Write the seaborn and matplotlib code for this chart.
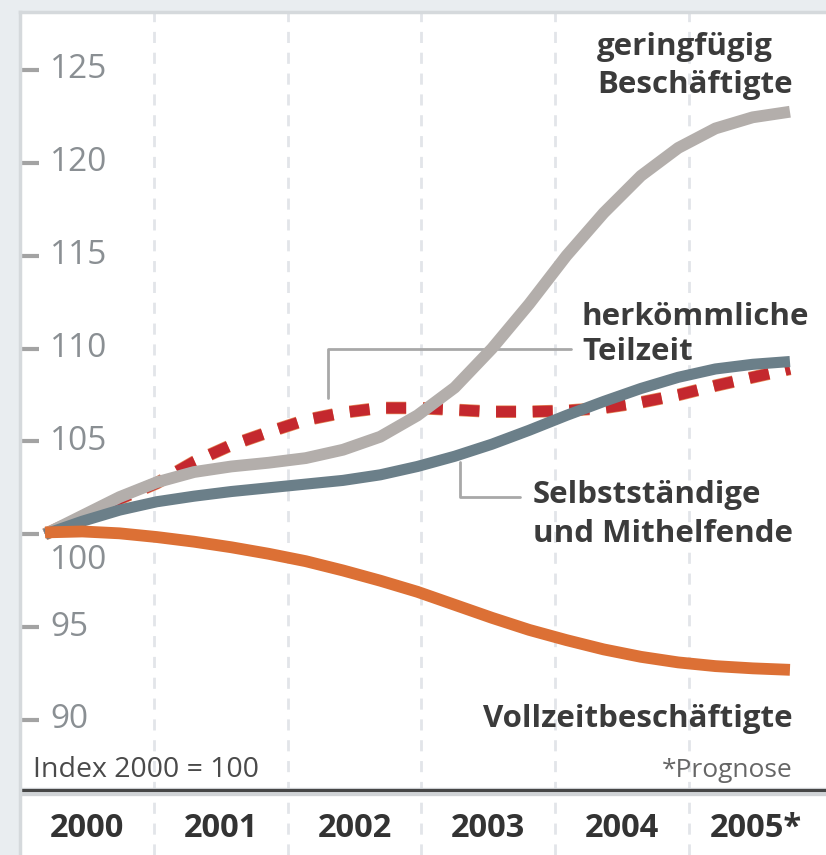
import numpy as np
import pandas as pd
import seaborn as sns
import matplotlib.pyplot as plt
from matplotlib import patheffects as pe

# Werte (vierteljaehrlich), Index 2000 = 100
jahre = [2000.0, 2000.25, 2000.5, 2000.75, 2001.0, 2001.25, 2001.5, 2001.75, 2002.0, 2002.25, 2002.5,
         2002.75, 2003.0, 2003.25, 2003.5, 2003.75, 2004.0, 2004.25, 2004.5, 2004.75, 2005.0]
geringfuegig = [100.0, 101.0, 102.0, 102.8, 103.35, 103.65, 103.85, 104.1, 104.55, 105.25, 106.4,
                107.9, 110.0, 112.4, 115.0, 117.3, 119.3, 120.8, 121.85, 122.45, 122.75]
selbststaendige = [100.0, 100.7, 101.3, 101.75, 102.05, 102.3, 102.5, 102.7, 102.9, 103.2, 103.65,
                   104.2, 104.85, 105.6, 106.4, 107.15, 107.85, 108.45, 108.9, 109.15, 109.3]
teilzeit = [100.0, 100.9, 101.9, 102.75, 103.9, 104.8, 105.5, 106.15, 106.55, 106.8, 106.8,
            106.7, 106.6, 106.6, 106.65, 106.8, 107.1, 107.5, 108.0, 108.45, 108.9]
vollzeit = [100.1, 100.15, 100.05, 99.85, 99.6, 99.3, 98.95, 98.55, 98.05, 97.5, 96.9,
            96.2, 95.5, 94.85, 94.3, 93.8, 93.4, 93.1, 92.9, 92.78, 92.7]

y_ticks = [90, 95, 100, 105, 110, 115, 120, 125]
jahr_labels = ['2000', '2001', '2002', '2003', '2004', '2005*']

n = len(jahre)
df = pd.DataFrame({
    'Jahr': jahre * 4,
    'Index': teilzeit + geringfuegig + selbststaendige + vollzeit,
    'Gruppe': ['teilzeit'] * n + ['geringfuegig'] * n + ['selbst'] * n + ['vollzeit'] * n,
})

sns.set_style('white')
plt.rcParams['font.family'] = ['Open Sans', 'DejaVu Sans']

fig = plt.figure(figsize=(8.26, 8.55), dpi=100, facecolor='#e9edf0')
ax = fig.add_axes([20 / 826, 0, 806 / 826, 843 / 855])
ax.set_facecolor('white')

x0, x1 = 1999.832, 2005.242
ax.set_xlim(x0, x1)
ax.set_ylim(82.73, 128.12)

# Spaltenraster
col_w = 0.898
for k in range(1, 6):
    ax.axvline(x0 + k * col_w, color='#e2e5e9', lw=2, ls=(0, (4, 3.5)), zorder=0)

# Kurven
sns.lineplot(data=df[df.Gruppe == 'teilzeit'], x='Jahr', y='Index', color='#c4282e',
             lw=8, linestyle=(0, (1.8, 1.5)), dash_capstyle='butt', errorbar=None, ax=ax,
             path_effects=[pe.Stroke(linewidth=9, foreground='#e58a5a'), pe.Normal()], zorder=3)
sns.lineplot(data=df[df.Gruppe == 'geringfuegig'], x='Jahr', y='Index', color='#b3aeab',
             lw=8.5, solid_capstyle='butt', solid_joinstyle='round', errorbar=None, ax=ax, zorder=4)
sns.lineplot(data=df[df.Gruppe == 'selbst'], x='Jahr', y='Index', color='#6b7f89',
             lw=8, solid_capstyle='butt', solid_joinstyle='round', errorbar=None, ax=ax, zorder=5)
sns.lineplot(data=df[df.Gruppe == 'vollzeit'], x='Jahr', y='Index', color='#dc7035',
             lw=8.5, solid_capstyle='butt', solid_joinstyle='round', errorbar=None, ax=ax, zorder=6)

# Hinweislinien
ax.plot([2001.899, 2001.899, 2003.53], [107.34, 109.98, 109.98], color='#a8a8a8', lw=2, zorder=3.5)
ax.plot([2002.785, 2002.785, 2003.188], [103.89, 102.01, 102.01], color='#a8a8a8', lw=2, zorder=4.5)

dunkel = '#3b3b3b'
fs = 22.5
ax.text(2003.705, 125.81, 'geringfügig', fontsize=fs, fontweight='bold', color=dunkel, va='baseline')
ax.text(2003.705, 123.76, 'Beschäftigte', fontsize=fs, fontweight='bold', color=dunkel, va='baseline')
ax.text(2003.604, 111.27, 'herkömmliche', fontsize=fs, fontweight='bold', color=dunkel, va='baseline')
ax.text(2003.604, 109.38, 'Teilzeit', fontsize=fs, fontweight='bold', color=dunkel, va='baseline')
ax.text(2003.275, 101.68, 'Selbstständige', fontsize=fs, fontweight='bold', color=dunkel, va='baseline')
ax.text(2003.275, 99.58, 'und Mithelfende', fontsize=fs, fontweight='bold', color=dunkel, va='baseline')
ax.text(2005.02, 89.62, 'Vollzeitbeschäftigte', fontsize=fs, fontweight='bold', color=dunkel,
        va='baseline', ha='right')
ax.text(1999.919, 86.93, 'Index 2000 = 100', fontsize=20.5, color='#4a4a4a', va='baseline')
ax.text(2005.02, 86.93, '*Prognose', fontsize=19, color='#666666', va='baseline', ha='right')

# Trennlinie und Jahresleiste
ax.axhline(86.1, color='#d0d3d6', lw=6, zorder=1)
ax.axhline(86.23, color='#464646', lw=2.2, zorder=2)
for k, lab in enumerate(jahr_labels):
    ax.text(x0 + (k + 0.5) * col_w, 83.70, lab, fontsize=23.5, fontweight='bold', color='#333333',
            ha='center', va='baseline')

# y-Achse
ax.set_yticks(y_ticks)
ax.set_yticklabels([])
ax.set_xticks([])
ax.tick_params(axis='y', direction='in', length=14, width=3, color='#a3a3a3', left=True)
for v in y_ticks:
    yy = v if v != 100 else 98.6
    ax.text(2000.034, yy, str(v), fontsize=24, color='#8a8f93', va='center', ha='left')

ax.set_xlabel('')
ax.set_ylabel('')
for s in ['right', 'bottom']:
    ax.spines[s].set_visible(False)
for s in ['left', 'top']:
    ax.spines[s].set_color('#d5d9dc')
    ax.spines[s].set_linewidth(2.5)

fig.savefig('out.png', dpi=100, facecolor=fig.get_facecolor())
